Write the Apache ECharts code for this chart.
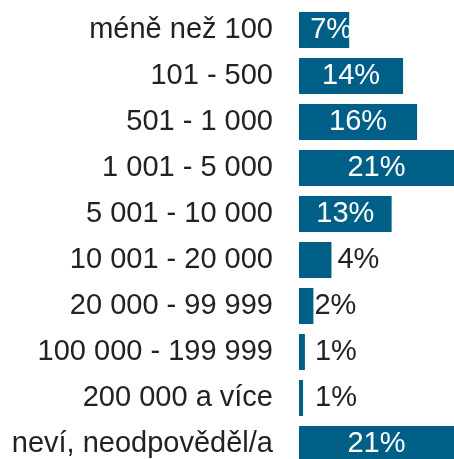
<!DOCTYPE html>
<html>
<head>
<meta charset="utf-8">
<script src="https://cdn.jsdelivr.net/npm/echarts@6/dist/echarts.min.js"></script>
<style>html,body{margin:0;padding:0;background:#fff;}#c{width:454px;height:459px;}</style>
</head>
<body>
<div id="c"></div>
<script>
var categories = ['méně než 100','101 - 500','501 - 1 000','1 001 - 5 000','5 001 - 10 000','10 001 - 20 000','20 000 - 99 999','100 000 - 199 999','200 000 a více','neví, neodpověděl/a'];
var values = [6.8, 14.1, 16.0, 21.0, 12.55, 4.4, 1.95, 0.8, 0.55, 21.0];
var valueLabels = ['7%','14%','16%','21%','13%','4%','2%','1%','1%','21%'];

var outsideDist = {5: 6, 6: 1, 7: 10, 8: 12};
var data = values.map(function (v, i) {
  var item = { value: v };
  if (outsideDist[i] !== undefined) {
    item.label = { position: 'right', distance: outsideDist[i], color: '#222222' };
  } else if (i === 0) {
    item.label = { position: 'inside', offset: [7, 0] };
  }
  return item;
});

var chart = echarts.init(document.getElementById('c'));
chart.setOption({
  animation: false,
  grid: { left: 299, width: 155, top: 7, height: 460, containLabel: false, outerBoundsMode: 'none' },
  xAxis: { type: 'value', min: 0, max: 21, show: false },
  yAxis: {
    type: 'category', inverse: true, data: categories,
    axisLine: { show: false }, axisTick: { show: false },
    axisLabel: { margin: 26, color: '#222222', fontSize: 29, fontFamily: 'Liberation Sans, Arial, sans-serif' }
  },
  series: [{
    type: 'bar', data: data, barWidth: 36,
    itemStyle: { color: '#005F87' },
    label: {
      show: true, position: 'inside', color: '#ffffff', fontSize: 29,
      fontFamily: 'Liberation Sans, Arial, sans-serif',
      formatter: function (p) { return valueLabels[p.dataIndex]; }
    }
  }]
});
</script>
</body>
</html>
